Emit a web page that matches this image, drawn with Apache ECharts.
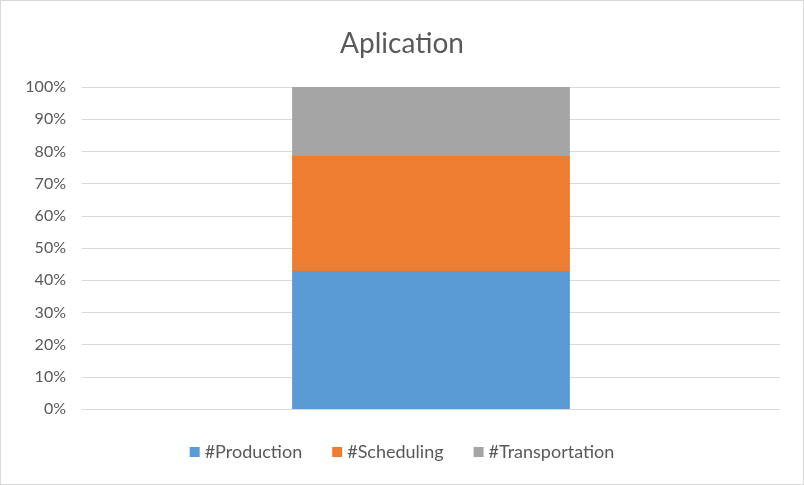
<!DOCTYPE html>
<html>
<head>
<meta charset="utf-8">
<script src="https://cdn.jsdelivr.net/npm/echarts@6/dist/echarts.min.js"></script>
<style>
  html, body { margin: 0; padding: 0; background: #fff; }
  #chart { width: 804px; height: 485px; box-sizing: border-box; border: 1px solid #d9d9d9; }
</style>
</head>
<body>
<div id="chart"></div>
<script>
const categories = ['Aplication']
const production = [42.86]
const scheduling = [35.71]
const transportation = [21.43]
const seriesNames = ['#Production', '#Scheduling', '#Transportation']
const colors = ['#5b9bd5', '#ed7d31', '#a5a5a5']

const chart = echarts.init(document.getElementById('chart'))
const textColor = '#595959'
const font = 'Lato, "Open Sans", sans-serif'

const makeSeries = (name, data, color) => ({
  name: name,
  type: 'bar',
  stack: 'total',
  data: data,
  barWidth: '39.8%',
  itemStyle: { color: color },
  emphasis: { disabled: true }
})

chart.setOption({
  animation: false,
  title: {
    text: 'Aplication',
    left: 'center',
    top: 24,
    textStyle: { color: textColor, fontSize: 28, fontWeight: 'normal', fontFamily: font }
  },
  legend: {
    data: seriesNames,
    bottom: 18,
    left: 'center',
    itemWidth: 10,
    itemHeight: 10,
    itemGap: 30,
    icon: 'rect',
    textStyle: { color: textColor, fontSize: 18, fontFamily: font }
  },
  grid: { left: 81, right: 23, top: 86, bottom: 75 },
  xAxis: {
    type: 'category',
    data: categories,
    axisLine: { lineStyle: { color: '#d9d9d9' } },
    axisTick: { show: false },
    axisLabel: { show: false }
  },
  yAxis: {
    type: 'value',
    min: 0,
    max: 100,
    interval: 10,
    axisLine: { show: false },
    axisTick: { show: false },
    axisLabel: {
      formatter: '{value}%',
      color: textColor,
      fontSize: 16,
      fontFamily: font,
      margin: 16
    },
    splitLine: { lineStyle: { color: '#d9d9d9' } }
  },
  series: [
    makeSeries(seriesNames[0], production, colors[0]),
    makeSeries(seriesNames[1], scheduling, colors[1]),
    makeSeries(seriesNames[2], transportation, colors[2])
  ]
})
</script>
</body>
</html>
